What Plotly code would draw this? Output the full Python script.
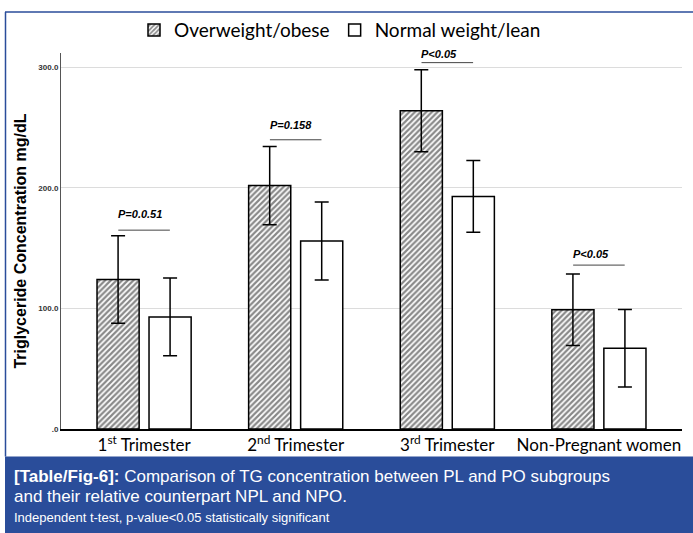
import plotly.graph_objects as go

categories = ["1<sup>st</sup> Trimester", "2<sup>nd</sup> Trimester", "3<sup>rd</sup> Trimester", "Non-Pregnant women"]
overweight = [124, 202, 264, 99]
overweight_err = [36.3, 32.5, 34.0, 29.7]
normal = [93, 156, 193, 67]
normal_err = [32.3, 32.4, 29.8, 32.2]
p_labels = ["P=0.0.51", "P=0.158", "P<0.05", "P<0.05"]
p_line_y = [165, 240, 304, 136]
p_text_y = [178, 252, 311.5, 145]
y_ticks = [0, 100, 200, 300]
y_tick_text = ["<b>.0</b>", "<b>100.0</b>", "<b>200.0</b>", "<b>300.0</b>"]

W, H = 693, 533
L, R, T, B = 61, 11, 53, 103.5
pw, ph = W - L - R, H - T - B

def px(x):
    return (x - L) / pw

def py(y):
    return (H - B - y) / ph

fig = go.Figure()
fig.add_trace(go.Bar(
    name="Overweight/obese", x=categories, y=overweight,
    marker=dict(color="white", line=dict(color="black", width=1.5),
                pattern=dict(shape="/", fgcolor="#111111", bgcolor="white", size=4, solidity=0.55)),
    error_y=dict(type="data", array=overweight_err, color="black", thickness=1.5, width=7),
))
fig.add_trace(go.Bar(
    name="Normal weight/lean", x=categories, y=normal,
    marker=dict(color="white", line=dict(color="black", width=1.5)),
    error_y=dict(type="data", array=normal_err, color="black", thickness=1.5, width=7),
))

off = 0.17
for i, (lab, ly, ty) in enumerate(zip(p_labels, p_line_y, p_text_y)):
    fig.add_shape(type="line", xref="x", yref="y", x0=i - off, x1=i + off, y0=ly, y1=ly,
                  line=dict(color="#444444", width=1))
    fig.add_annotation(x=i - off - 0.015, y=ty, xref="x", yref="y", text="<b><i>" + lab + "</i></b>",
                       showarrow=False, xanchor="left", yanchor="middle",
                       font=dict(family="Liberation Sans", size=11, color="black"))

blue = "#2a4d9a"
# caption box
fig.add_shape(type="rect", xref="paper", yref="paper", x0=px(5), x1=px(694), y0=py(534), y1=py(457),
              fillcolor=blue, line=dict(width=0), layer="below")
# frame lines
fig.add_shape(type="line", xref="paper", yref="paper", x0=px(5), x1=px(694), y0=py(12), y1=py(12),
              line=dict(color=blue, width=1.5))
fig.add_shape(type="line", xref="paper", yref="paper", x0=px(5.5), x1=px(5.5), y0=py(12), y1=py(457),
              line=dict(color=blue, width=1.5))

cap_font = "Liberation Sans"
fig.add_annotation(x=px(12), y=py(477), xref="paper", yref="paper", xanchor="left", yanchor="middle",
                   showarrow=False,
                   text="<b>[Table/Fig-6]:</b> Comparison of TG concentration between PL and PO subgroups",
                   font=dict(family=cap_font, size=17, color="white"))
fig.add_annotation(x=px(12), y=py(497), xref="paper", yref="paper", xanchor="left", yanchor="middle",
                   showarrow=False, text="and their relative counterpart NPL and NPO.",
                   font=dict(family=cap_font, size=17, color="white"))
fig.add_annotation(x=px(12), y=py(518), xref="paper", yref="paper", xanchor="left", yanchor="middle",
                   showarrow=False, text="Independent t-test, p-value<0.05 statistically significant",
                   font=dict(family=cap_font, size=13, color="white"))

fig.update_layout(
    width=W, height=H,
    margin=dict(l=L, r=R, t=T, b=B, pad=0, autoexpand=False),
    paper_bgcolor="white", plot_bgcolor="white",
    barmode="group", bargap=0.314, bargroupgap=0.19,
    showlegend=True,
    legend=dict(orientation="h", x=px(340), y=py(30), xanchor="center", yanchor="middle",
                font=dict(family="Lato, Liberation Sans", size=19, color="black"),
                bgcolor="rgba(0,0,0,0)"),
    xaxis=dict(range=[-0.548, 3.548], showline=True, linecolor="black", linewidth=2,
               tickfont=dict(family="Lato, Liberation Sans", size=17, color="black"),
               ticks="", showgrid=False, automargin=False),
    yaxis=dict(range=[0, 312], tickvals=y_ticks, ticktext=y_tick_text, automargin=False,
               tickfont=dict(family="Liberation Sans", size=8, color="#333333"),
               showgrid=True, gridcolor="#dcdcdc", gridwidth=1,
               showline=True, linecolor="#555555", linewidth=1, zeroline=False, ticks="",
               title=dict(text="<b>Triglyceride Concentration mg/dL</b>", standoff=7,
                          font=dict(family="Liberation Sans", size=16, color="black"))),
)

fig.write_html("out.html", config={"displayModeBar": False},
               post_script="document.body.style.margin='0';document.body.style.overflow='hidden';")
